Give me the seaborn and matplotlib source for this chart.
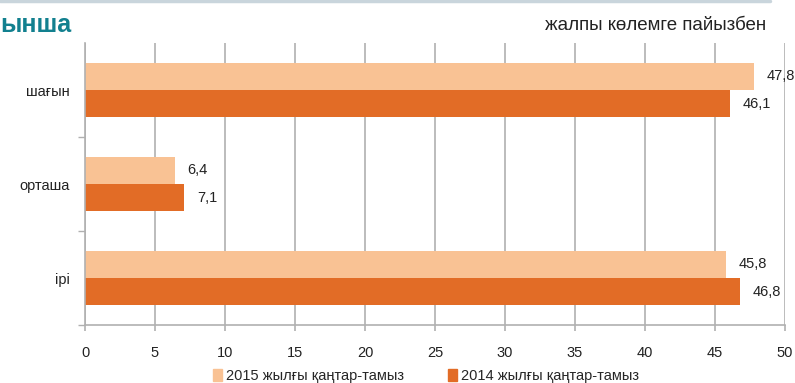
import pandas as pd
import seaborn as sns
import matplotlib.pyplot as plt
from matplotlib.lines import Line2D
from matplotlib.ticker import FixedLocator

categories = ['шағын', 'орташа', 'ірі']
series = ['2015 жылғы қаңтар-тамыз', '2014 жылғы қаңтар-тамыз']
values_2015 = [47.8, 6.4, 45.8]
values_2014 = [46.1, 7.1, 46.8]
xticks = [0, 5, 10, 15, 20, 25, 30, 35, 40, 45, 50]

df = pd.DataFrame({
    'cat': categories * 2,
    'period': [series[0]] * 3 + [series[1]] * 3,
    'value': values_2015 + values_2014,
})

sns.set_style('white')
plt.rcParams['font.family'] = ['Liberation Sans', 'DejaVu Sans']

fig = plt.figure(figsize=(7.95, 3.83), dpi=100)
ax = fig.add_axes([85 / 795, 1 - 325 / 383, 700 / 795, 282 / 383])

palette = ['#F9C294', '#E26C26']
sns.barplot(data=df, y='cat', x='value', hue='period', order=categories,
            hue_order=series, palette=palette, orient='h', width=0.575,
            saturation=1, linewidth=0, ax=ax, legend=False)

# value labels with comma decimal
for cont in ax.containers:
    labels = [f'{v:.1f}'.replace('.', ',') for v in cont.datavalues]
    ax.bar_label(cont, labels=labels, padding=9, fontsize=10.5, color='#222222')

ax.set_xlim(0, 50)
ax.set_ylim(2.5, -0.5)
ax.set_xticks(xticks)
ax.set_xticklabels([str(t) for t in xticks], fontsize=10.5, color='#222222')
ax.xaxis.grid(True, color='#b0b0b0', linewidth=1.2)
ax.set_axisbelow(True)
ax.set_xlabel('')
ax.set_ylabel('')
ax.tick_params(axis='x', length=4, color='#b0b0b0', width=1.2, pad=11, bottom=True)
ax.tick_params(axis='y', which='major', length=0, pad=11, labelsize=10.5, labelcolor='#222222')
ax.yaxis.set_minor_locator(FixedLocator([0.5, 1.5, 2.5]))
ax.tick_params(axis='y', which='minor', length=5, color='#b0b0b0', width=1, left=True)

for side in ['top', 'right']:
    ax.spines[side].set_visible(False)
for side in ['left', 'bottom']:
    ax.spines[side].set_color('#b0b0b0')
    ax.spines[side].set_linewidth(1.2)

# header
fig.add_artist(Line2D([0, 770 / 795], [0.997, 0.997], color='#c9d5dc', linewidth=2.5))
fig.text(0.0, 1 - 25 / 383, 'ынша', fontsize=18, fontweight='bold', color='#12808F',
         va='center', ha='left')
fig.text(766 / 795, 1 - 25 / 383, 'жалпы көлемге пайызбен', fontsize=13.5, color='#222222',
         va='center', ha='right')

handles = [plt.Rectangle((0, 0), 1, 1, color=c) for c in palette]
fig.legend(handles, series, loc='upper center', bbox_to_anchor=(0.536, 1 - 356 / 383),
           ncol=2, frameon=False, fontsize=10.5, handlelength=0.6, handleheight=0.9,
           handletextpad=0.3, columnspacing=3)

fig.savefig('out.png', dpi=100)
